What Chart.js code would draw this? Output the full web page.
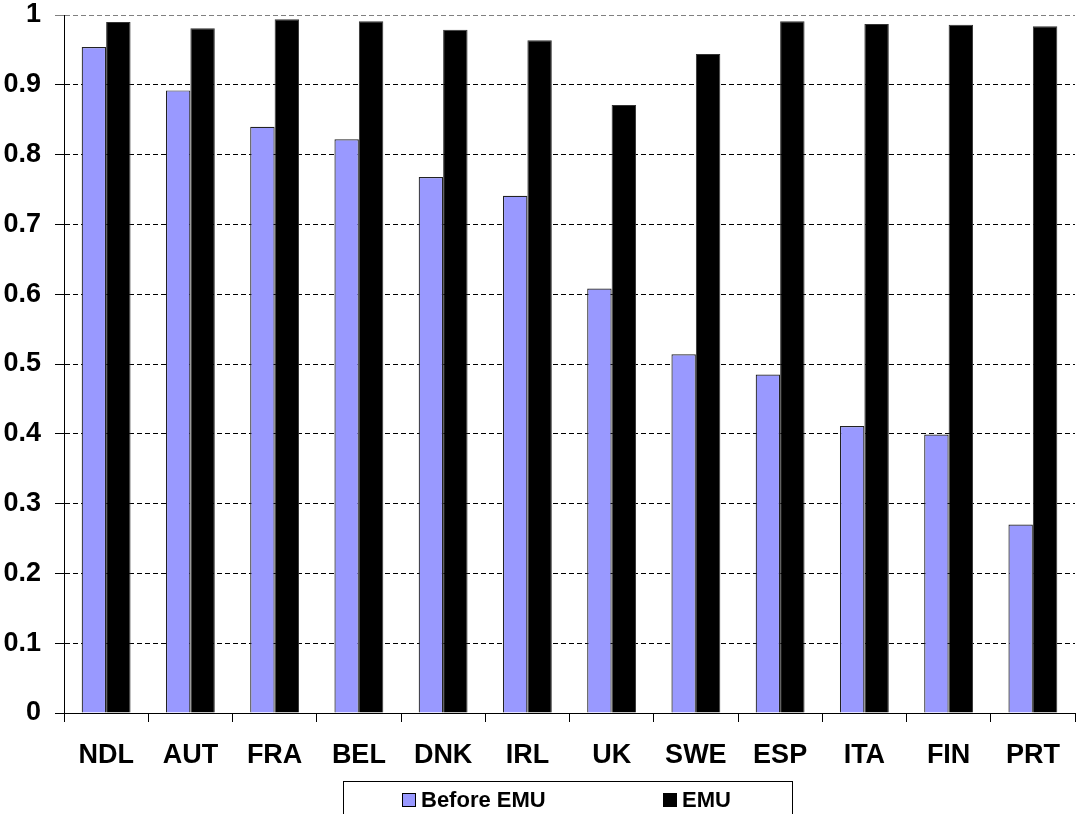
<!DOCTYPE html>
<html>
<head>
<meta charset="utf-8">
<script src="https://cdn.jsdelivr.net/npm/chart.js@4.4.1/dist/chart.umd.min.js"></script>
<style>
  html, body { margin: 0; padding: 0; background: #fff; }
  #wrap { width: 1076px; height: 814px; position: relative; }
</style>
</head>
<body>
<div id="wrap"><canvas id="c" width="1076" height="814"></canvas></div>
<script>
const categories = ["NDL", "AUT", "FRA", "BEL", "DNK", "IRL", "UK", "SWE", "ESP", "ITA", "FIN", "PRT"];
const beforeEMU = [0.954, 0.892, 0.840, 0.822, 0.768, 0.741, 0.608, 0.514, 0.485, 0.411, 0.399, 0.270];
const emu       = [0.990, 0.981, 0.994, 0.991, 0.979, 0.964, 0.871, 0.944, 0.991, 0.987, 0.986, 0.984];
const seriesNames = ["Before EMU", "EMU"];
const yTickLabels = ["0", "0.1", "0.2", "0.3", "0.4", "0.5", "0.6", "0.7", "0.8", "0.9", "1"];

const FONT = "'Liberation Sans', Arial, Helvetica, sans-serif";

const boxLegend = {
  id: 'boxLegend',
  afterDraw(chart) {
    const ctx = chart.ctx;
    ctx.save();
    ctx.strokeStyle = '#000';
    ctx.lineWidth = 1;
    ctx.strokeRect(343.5, 781.5, 449, 60);
    const items = [
      { x: 402, color: '#9999FF', text: chart.data.datasets[0].label },
      { x: 663, color: '#000000', text: chart.data.datasets[1].label }
    ];
    ctx.font = "bold 22px " + FONT;
    ctx.textBaseline = 'middle';
    ctx.textAlign = 'left';
    items.forEach(it => {
      ctx.fillStyle = it.color;
      ctx.fillRect(it.x, 793, 14, 14);
      ctx.strokeStyle = '#000';
      ctx.strokeRect(it.x + 0.5, 793.5, 13, 13);
      ctx.fillStyle = '#000';
      ctx.fillText(it.text, it.x + 19, 801);
    });
    ctx.restore();
  }
};

const axisLine = {
  id: 'axisLine',
  afterDatasetsDraw(chart) {
    const { ctx, chartArea } = chart;
    ctx.save();
    ctx.strokeStyle = '#000';
    ctx.lineWidth = 1;
    ctx.setLineDash([]);
    ctx.beginPath();
    ctx.moveTo(chartArea.left + 0.5, chartArea.top);
    ctx.lineTo(chartArea.left + 0.5, chartArea.bottom);
    ctx.stroke();
    ctx.restore();
  }
};

new Chart(document.getElementById('c'), {
  type: 'bar',
  data: {
    labels: categories,
    datasets: [
      { label: seriesNames[0], data: beforeEMU, backgroundColor: '#9999FF', borderColor: '#222', borderWidth: 1.2 },
      { label: seriesNames[1], data: emu, backgroundColor: '#000000', borderColor: '#333', borderWidth: 1 }
    ]
  },
  options: {
    responsive: false,
    animation: false,
    devicePixelRatio: 1,
    layout: { padding: { top: 15, right: 1, left: 0, bottom: 0 } },
    datasets: { bar: { categoryPercentage: 0.58, barPercentage: 1.0 } },
    plugins: { legend: { display: false }, tooltip: { enabled: false } },
    scales: {
      x: {
        grid: { display: true, drawOnChartArea: false, drawTicks: true, tickLength: 9, color: '#000', offset: true },
        border: { display: true, color: '#000', width: 1 },
        ticks: { color: '#000', font: { family: FONT, size: 27, weight: 'bold' }, padding: 17, maxRotation: 0, autoSkip: false },
        afterFit(scale) { scale.height = 101; scale.paddingLeft = 0; scale.paddingRight = 0; }
      },
      y: {
        min: 0, max: 1,
        grid: {
          drawTicks: true, tickLength: 9,
          color: ctx => (ctx.tick && ctx.tick.value >= 0.999) ? '#808080' : '#000',
          lineWidth: 1,
          tickColor: ctx => (ctx.tick && ctx.tick.value >= 0.999) ? '#808080' : '#000'
        },
        border: { display: true, color: '#000', width: 1, dash: [5, 3] },
        ticks: {
          stepSize: 0.1, color: '#000', padding: 14,
          font: { family: FONT, size: 27, weight: 'bold' },
          callback: (v, i) => yTickLabels[i]
        },
        afterFit(scale) { scale.width = 64; scale.paddingTop = 0; scale.paddingBottom = 0; }
      }
    }
  },
  plugins: [boxLegend, axisLine]
});
</script>
</body>
</html>
